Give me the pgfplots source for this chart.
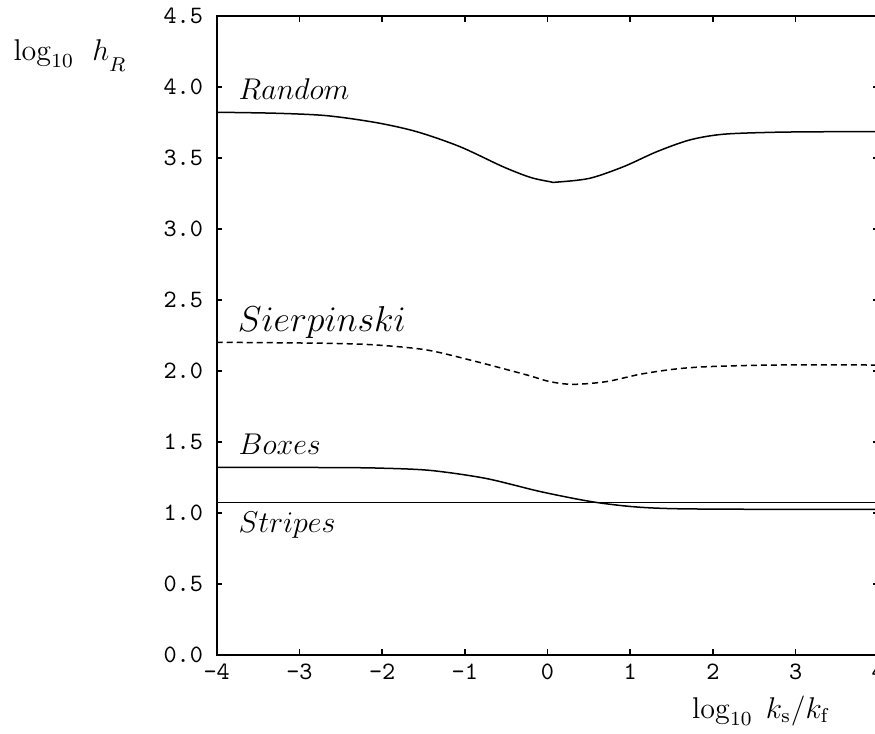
\documentclass[border=0pt]{standalone}
\usepackage{pgfplots}
\pgfplotsset{compat=1.18}

\begin{document}
\begin{tikzpicture}
% the reference is cut just short of the right axis line
\useasboundingbox (-86.7pt,-31.6pt) rectangle (263.3pt,262pt);
\clip (-86.7pt,-31.6pt) rectangle (263.3pt,262pt);
\begin{axis}[
    at={(0pt,0pt)}, anchor=south west,
    scale only axis,
    width=264.6pt, height=255.6pt,
    xmin=-4, xmax=4, ymin=0, ymax=4.5,
    xtick={-4,-3,...,4},
    ytick={0,0.5,...,4.5},
    xticklabels={-4,-3,-2,-1,0,1,2,3,4},
    yticklabels={0.0,0.5,1.0,1.5,2.0,2.5,3.0,3.5,4.0,4.5},
    tick label style={font=\fontsize{10}{12}\selectfont\ttfamily},
    yticklabel style={xshift=-2pt},
    tick align=inside,
    major tick length=2.3pt,
    axis line style={line width=0.7pt},
    every tick/.style={black, line width=0.6pt},
    xlabel={$\log_{10}\; k_{\mathrm{s}}/k_{\mathrm{f}}$},
    xlabel style={font=\fontsize{11.5}{13}\selectfont, at={(axis description cs:0.718,-0.099)}, anchor=base west, inner sep=0pt},
    ylabel={$\log_{10}\;\, h_{\raisebox{-2.5pt}{$\scriptstyle R$}}$},
    ylabel style={font=\fontsize{12}{14}\selectfont, rotate=-90, at={(axis description cs:-0.308,0.930)}, anchor=base west, inner sep=0pt},
]
% Random
\addplot[black, no marks, line width=0.6pt, smooth] coordinates {
    (-4,3.822) (-3.28,3.815) (-2.67,3.798) (-2.07,3.749) (-1.58,3.685)
    (-1.06,3.580) (-0.54,3.439) (-0.21,3.364) (0.03,3.333) (0.11,3.330)
    (0.51,3.357) (0.92,3.439) (1.32,3.544) (1.72,3.627) (2.12,3.667)
    (2.73,3.681) (3.4,3.685) (4,3.685)
};
% Sierpinski
\addplot[black, no marks, line width=0.6pt, smooth, dash pattern=on 2.4pt off 1.6pt] coordinates {
    (-4,2.202) (-2.67,2.195) (-2.07,2.183) (-1.46,2.148) (-0.86,2.066)
    (-0.25,1.972) (0.03,1.925) (0.31,1.906) (0.71,1.925) (1.12,1.977)
    (1.52,2.012) (1.92,2.030) (2.73,2.042) (4,2.042)
};
% Boxes
\addplot[black, no marks, line width=0.6pt, smooth] coordinates {
    (-4,1.322) (-2.6,1.320) (-2.03,1.316) (-1.42,1.300) (-0.75,1.244)
    (-0.08,1.150) (0.53,1.080) (1.04,1.044) (1.56,1.030) (2.58,1.026) (4,1.026)
};
% Stripes
\addplot[black, no marks, line width=0.6pt] coordinates {(-4,1.075) (4,1.075)};

\node[anchor=base west, inner sep=0pt, font=\fontsize{13.2}{15}\selectfont] at (axis cs:-3.74,3.91) {$Random$};
\node[anchor=base west, inner sep=0pt, font=\fontsize{14.5}{17}\selectfont] at (axis cs:-3.75,2.277) {$Sierpinski$};
\node[anchor=base west, inner sep=0pt, font=\fontsize{13.2}{15}\selectfont] at (axis cs:-3.74,1.41) {$Boxes$};
\node[anchor=base west, inner sep=0pt, font=\fontsize{13.2}{15}\selectfont] at (axis cs:-3.74,0.866) {$Stripes$};
\end{axis}
\end{tikzpicture}
\end{document}
